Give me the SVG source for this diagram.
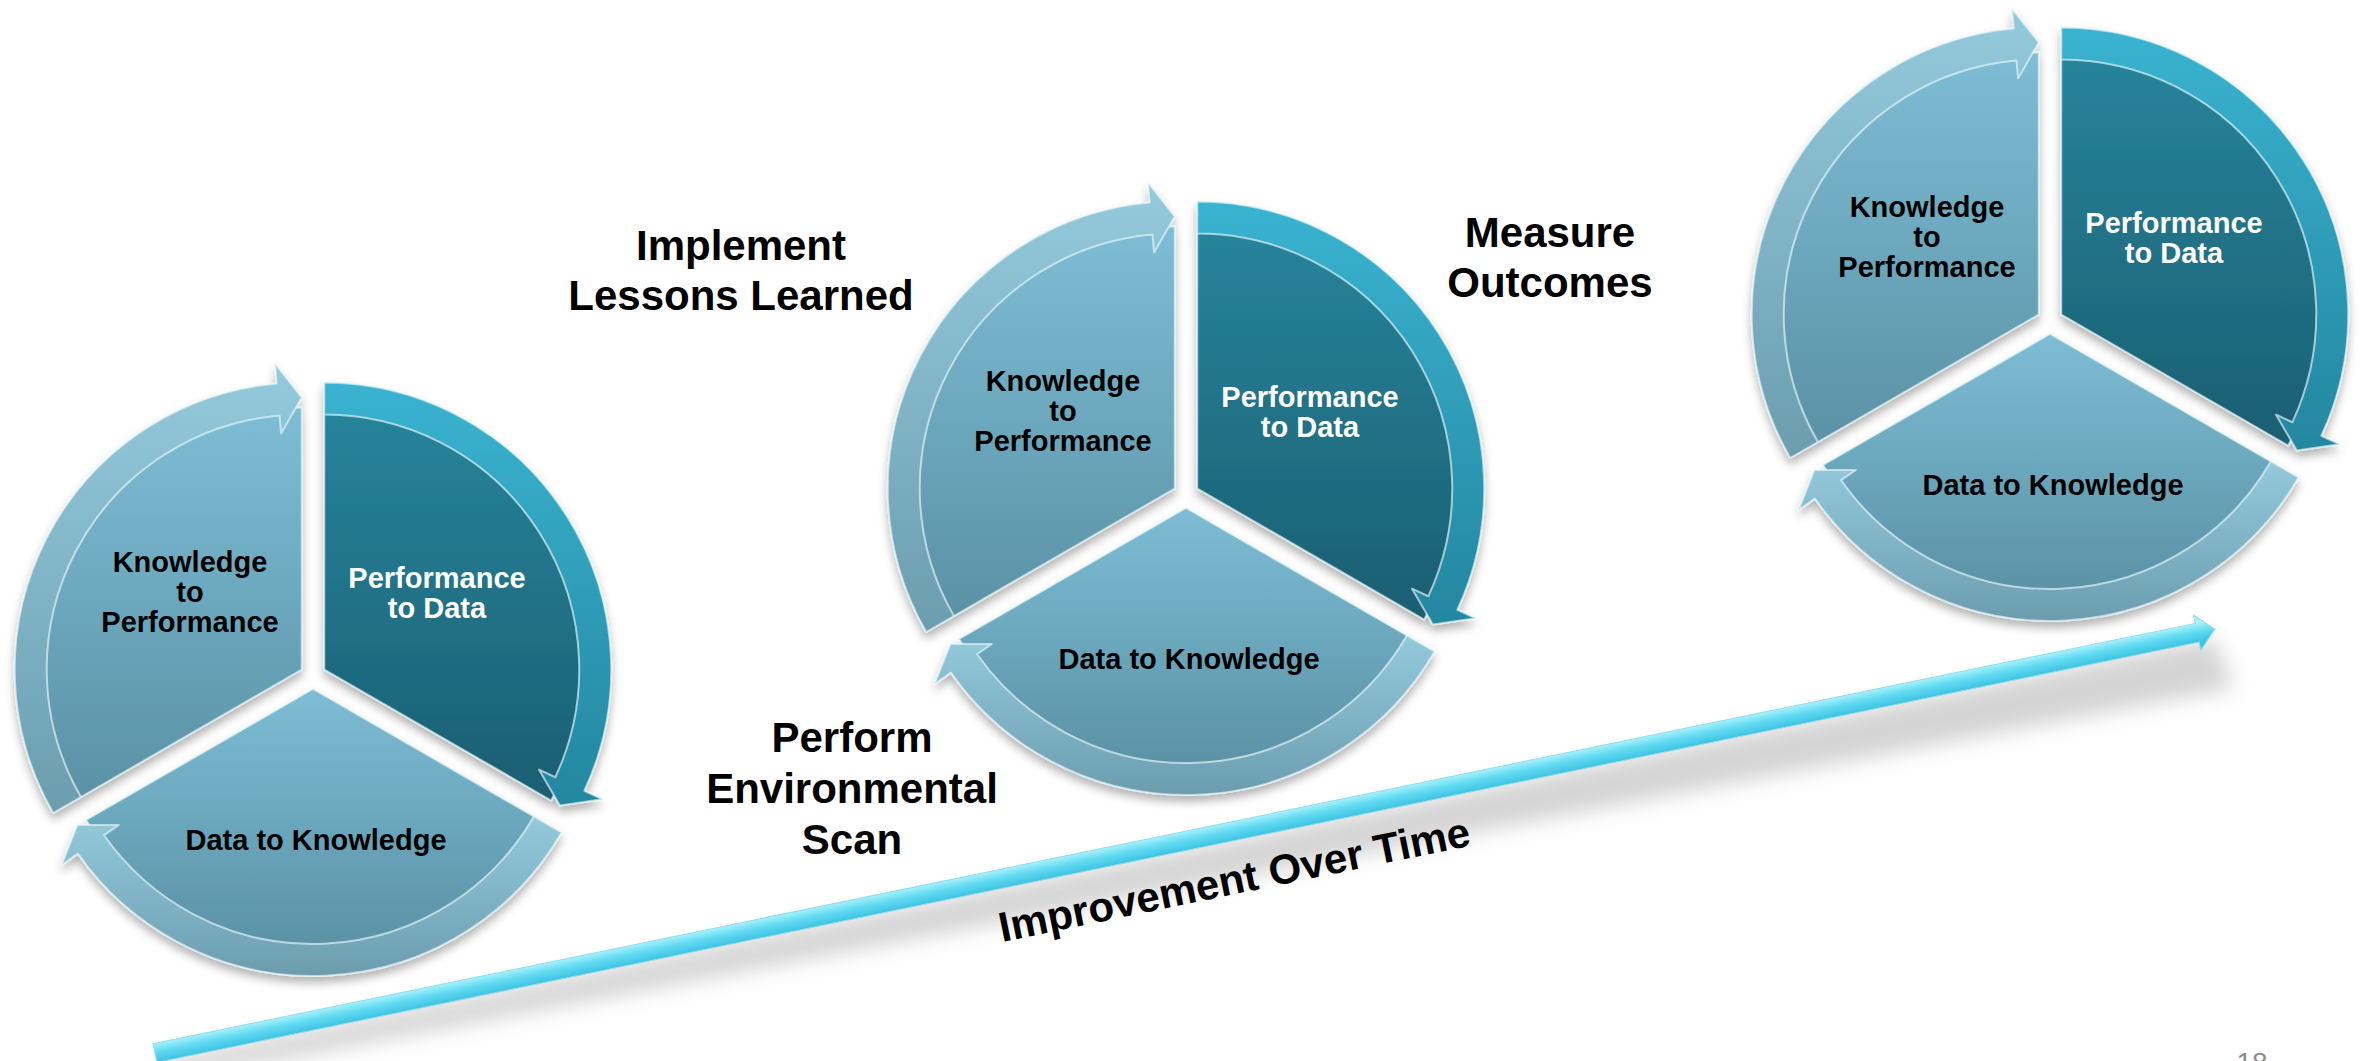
<svg xmlns="http://www.w3.org/2000/svg" xmlns:xlink="http://www.w3.org/1999/xlink" width="2364" height="1061" viewBox="0 0 2364 1061">
  <style>
    .lbl { font-family: "Liberation Sans", Arial, sans-serif; font-weight: bold; font-size: 29px; text-anchor: middle; }
    .dark { fill: #000000; }
    .light { fill: #ffffff; }
    .note { font-family: "Liberation Sans", Arial, sans-serif; font-weight: bold; font-size: 42px; text-anchor: middle; fill: #000000; }
    .edge { stroke: #e6f8fc; stroke-opacity: 0.65; stroke-width: 2; stroke-linejoin: round; }
    .seg { filter: url(#segShadow); }
    .wl { fill: url(#gradLightWedge); }
    .bl { fill: url(#gradLightBand); }
    .wd { fill: url(#gradDarkWedge); }
    .bd { fill: url(#gradDarkBand); }
  </style>
  <defs>
    <linearGradient id="gradLightWedge" x1="0" y1="0" x2="0" y2="1">
      <stop offset="0" stop-color="#7dbdd5"/>
      <stop offset="1" stop-color="#5a91a5"/>
    </linearGradient>
    <linearGradient id="gradLightBand" x1="0" y1="0" x2="0" y2="1">
      <stop offset="0" stop-color="#94cadc"/>
      <stop offset="1" stop-color="#6b9daf"/>
    </linearGradient>
    <linearGradient id="gradDarkWedge" x1="0" y1="0" x2="0" y2="1">
      <stop offset="0" stop-color="#27849b"/>
      <stop offset="1" stop-color="#1b5e72"/>
    </linearGradient>
    <linearGradient id="gradDarkBand" x1="0" y1="0" x2="0" y2="1">
      <stop offset="0" stop-color="#3ab3d0"/>
      <stop offset="1" stop-color="#2486a0"/>
    </linearGradient>
    <linearGradient id="gradTimeline" gradientUnits="userSpaceOnUse" x1="0" y1="-9.5" x2="0" y2="9.5">
      <stop offset="0" stop-color="#a8f1fb"/>
      <stop offset="0.45" stop-color="#64dbf2"/>
      <stop offset="1" stop-color="#3dc2e2"/>
    </linearGradient>
    <filter id="segShadow" x="-20%" y="-20%" width="140%" height="150%">
      <feDropShadow dx="0" dy="6" stdDeviation="5" flood-color="#000000" flood-opacity="0.3"/>
    </filter>
    <filter id="softBlur" x="-5%" y="-200%" width="110%" height="500%">
      <feGaussianBlur stdDeviation="11"/>
    </filter>

    <!-- segment shapes, drawn around each segment's own centre (angles clockwise from north) -->
    <path id="p2dWedge" d="M0,0 L0,-262 A262,262 0 0 1 226.90,131 Z"/>
    <path id="p2dBand" d="M0,-287 A287,287 0 0 1 260.11,121.29 L278.23,129.74 L235.56,136 L214.79,100.16 L231.11,107.77 A255,255 0 0 0 0,-255 Z"/>
    <path id="d2kWedge" d="M0,0 L226.90,131 A262,262 0 0 1 -226.90,131 Z"/>
    <path id="d2kBand" d="M248.55,143.5 A287,287 0 0 1 -235.10,164.61 L-251.48,176.07 L-235.56,136 L-194.14,135.93 L-208.88,146.26 A255,255 0 0 0 220.84,127.5 Z"/>
    <path id="k2pWedge" d="M0,0 L-226.90,131 A262,262 0 0 1 0,-262 Z"/>
    <path id="k2pBand" d="M-248.55,143.5 A287,287 0 0 1 -25.01,-285.91 L-26.76,-305.83 L0,-272 L-20.66,-236.10 L-22.23,-254.03 A255,255 0 0 0 -220.84,127.5 Z"/>
  </defs>

  <rect width="2364" height="1061" fill="#ffffff"/>

  <!-- timeline arrow along the bottom -->
  <g id="connectors">
    <g id="improvement-arrow" transform="translate(155,1053) rotate(-11.63)">
      <polygon points="10,8 2100,8 2110,62 0,30" fill="#000000" opacity="0.17" filter="url(#softBlur)"/>
      <path d="M0,-9.5 H2085 V-18 L2103,0 L2085,18 V9.5 H0 Z" fill="url(#gradTimeline)" stroke="#8fdcec" stroke-width="1"/>
      <text class="note" x="1092" y="62">Improvement Over Time</text>
    </g>
  </g>

  <!-- first cycle -->
  <g id="cycle-1" transform="translate(313,676)">
    <g id="cycle-1-knowledge-to-performance">
      <g class="seg" transform="translate(-11.26,-6.5)">
        <use xlink:href="#k2pWedge" class="wl edge"/>
        <use xlink:href="#k2pBand" class="bl edge"/>
      </g>
      <text class="lbl dark" x="-123" y="-104">Knowledge</text>
      <text class="lbl dark" x="-123" y="-74">to</text>
      <text class="lbl dark" x="-123" y="-44">Performance</text>
    </g>
    <g id="cycle-1-performance-to-data">
      <g class="seg" transform="translate(11.26,-6.5)">
        <use xlink:href="#p2dWedge" class="wd edge"/>
        <use xlink:href="#p2dBand" class="bd edge"/>
      </g>
      <text class="lbl light" x="124" y="-88">Performance</text>
      <text class="lbl light" x="124" y="-58">to Data</text>
    </g>
    <g id="cycle-1-data-to-knowledge">
      <g class="seg" transform="translate(0,13)">
        <use xlink:href="#d2kWedge" class="wl edge"/>
        <use xlink:href="#d2kBand" class="bl edge"/>
      </g>
      <text class="lbl dark" x="3" y="174">Data to Knowledge</text>
    </g>
  </g>

  <!-- second cycle -->
  <g id="cycle-2" transform="translate(1186,495)">
    <g id="cycle-2-knowledge-to-performance">
      <g class="seg" transform="translate(-11.26,-6.5)">
        <use xlink:href="#k2pWedge" class="wl edge"/>
        <use xlink:href="#k2pBand" class="bl edge"/>
      </g>
      <text class="lbl dark" x="-123" y="-104">Knowledge</text>
      <text class="lbl dark" x="-123" y="-74">to</text>
      <text class="lbl dark" x="-123" y="-44">Performance</text>
    </g>
    <g id="cycle-2-performance-to-data">
      <g class="seg" transform="translate(11.26,-6.5)">
        <use xlink:href="#p2dWedge" class="wd edge"/>
        <use xlink:href="#p2dBand" class="bd edge"/>
      </g>
      <text class="lbl light" x="124" y="-88">Performance</text>
      <text class="lbl light" x="124" y="-58">to Data</text>
    </g>
    <g id="cycle-2-data-to-knowledge">
      <g class="seg" transform="translate(0,13)">
        <use xlink:href="#d2kWedge" class="wl edge"/>
        <use xlink:href="#d2kBand" class="bl edge"/>
      </g>
      <text class="lbl dark" x="3" y="174">Data to Knowledge</text>
    </g>
  </g>

  <!-- third cycle -->
  <g id="cycle-3" transform="translate(2050,321)">
    <g id="cycle-3-knowledge-to-performance">
      <g class="seg" transform="translate(-11.26,-6.5)">
        <use xlink:href="#k2pWedge" class="wl edge"/>
        <use xlink:href="#k2pBand" class="bl edge"/>
      </g>
      <text class="lbl dark" x="-123" y="-104">Knowledge</text>
      <text class="lbl dark" x="-123" y="-74">to</text>
      <text class="lbl dark" x="-123" y="-44">Performance</text>
    </g>
    <g id="cycle-3-performance-to-data">
      <g class="seg" transform="translate(11.26,-6.5)">
        <use xlink:href="#p2dWedge" class="wd edge"/>
        <use xlink:href="#p2dBand" class="bd edge"/>
      </g>
      <text class="lbl light" x="124" y="-88">Performance</text>
      <text class="lbl light" x="124" y="-58">to Data</text>
    </g>
    <g id="cycle-3-data-to-knowledge">
      <g class="seg" transform="translate(0,13)">
        <use xlink:href="#d2kWedge" class="wl edge"/>
        <use xlink:href="#d2kBand" class="bl edge"/>
      </g>
      <text class="lbl dark" x="3" y="174">Data to Knowledge</text>
    </g>
  </g>

  <!-- phase captions -->
  <g id="caption-implement">
    <text class="note" x="741" y="260">Implement</text>
    <text class="note" x="741" y="310">Lessons Learned</text>
  </g>
  <g id="caption-measure">
    <text class="note" x="1550" y="247">Measure</text>
    <text class="note" x="1550" y="297">Outcomes</text>
  </g>
  <g id="caption-scan">
    <text class="note" x="852" y="752">Perform</text>
    <text class="note" x="852" y="803">Environmental</text>
    <text class="note" x="852" y="854">Scan</text>
  </g>

  <!-- slide number, running off the bottom edge -->
  <text id="slide-number" x="2252" y="1072" font-family="Liberation Sans, Arial, sans-serif" font-size="28" text-anchor="middle" fill="#8c8c8c">18</text>
</svg>
